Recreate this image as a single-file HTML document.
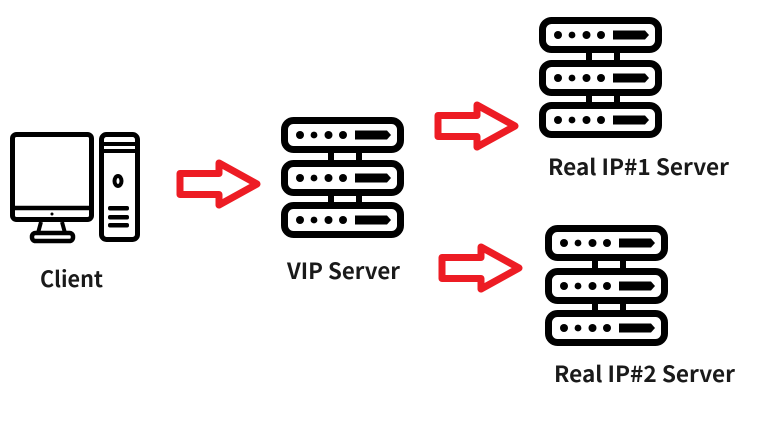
<!DOCTYPE html>
<html><head><meta charset="utf-8"><style>
html,body{margin:0;padding:0;background:#fff}
svg{display:block}
text{font-family:"Noto Sans CJK KR","Liberation Sans",sans-serif;font-weight:700;font-size:22px;fill:#1a1a1a}
</style></head><body>
<svg width="775" height="428" viewBox="0 0 775 428" xmlns="http://www.w3.org/2000/svg">
<defs>
<g id="srv">
  <g fill="#000">
    <rect x="47" y="34" width="6" height="12"/><rect x="75" y="34" width="6" height="12"/>
    <rect x="47" y="76" width="6" height="12"/><rect x="75" y="76" width="6" height="12"/>
  </g>
  <g fill="#fff" stroke="#000" stroke-width="7">
    <rect x="3.500" y="3.500" width="116" height="29" rx="9"/>
    <rect x="3.500" y="46.500" width="116" height="29" rx="9"/>
    <rect x="3.500" y="88.500" width="116" height="29" rx="9"/>
  </g>
  <g id="row" fill="#000">
    <circle cx="19" cy="18" r="4"/><circle cx="33" cy="18" r="3.400"/><circle cx="47.500" cy="18" r="4"/><circle cx="62" cy="18" r="4"/>
    <path d="M74 13.500h32l4 4.500-4 4.500H74z"/>
  </g>
  <use href="#row" y="43"/>
  <use href="#row" y="85"/>
</g>
<path id="arr" d="M180 173.500H219V163L257 184L219 205V194.500H180Z" fill="#fff" stroke="#ed1c24" stroke-width="7" stroke-linejoin="round"/>
</defs>

<g style="filter:blur(.35px)">
<!-- computer -->
<g fill="none" stroke="#000">
  <rect x="12.500" y="134.500" width="79" height="85" rx="4" stroke-width="5"/>
  <path d="M12 208H92" stroke-width="4.500"/>
  <path d="M41 222L38 233M62 222L65 233" stroke-width="4"/>
  <rect x="32" y="233" width="41" height="8" rx="3.500" stroke-width="4.500"/>
  <rect x="101.500" y="134.500" width="36" height="105" rx="5" stroke-width="5"/>
  <path d="M101 144H138M101 151H138" stroke-width="4"/>
  <ellipse cx="118" cy="181" rx="3.500" ry="5" stroke-width="4"/>
</g>
<circle cx="52" cy="214" r="1.500" fill="#000"/>
<g fill="#000">
  <rect x="108" y="206" width="21" height="4.500" rx="2"/>
  <rect x="108" y="215" width="21" height="4.500" rx="2"/>
  <rect x="108" y="223" width="21" height="4.500" rx="2"/>
</g>

<use href="#srv" x="281" y="117"/>
<use href="#srv" x="539" y="17"/>
<use href="#srv" x="545" y="225"/>

<use href="#arr"/>
<use href="#arr" x="258" y="-58"/>
<use href="#arr" x="262" y="84"/>

<text x="40" y="287" textLength="63" lengthAdjust="spacingAndGlyphs">Client</text>
<text x="287" y="279" textLength="113" lengthAdjust="spacingAndGlyphs">VIP Server</text>
<text x="548" y="175" textLength="181" lengthAdjust="spacingAndGlyphs">Real IP#1 Server</text>
<text x="554" y="382" textLength="181" lengthAdjust="spacingAndGlyphs">Real IP#2 Server</text>
</g>
</svg>
</body></html>
